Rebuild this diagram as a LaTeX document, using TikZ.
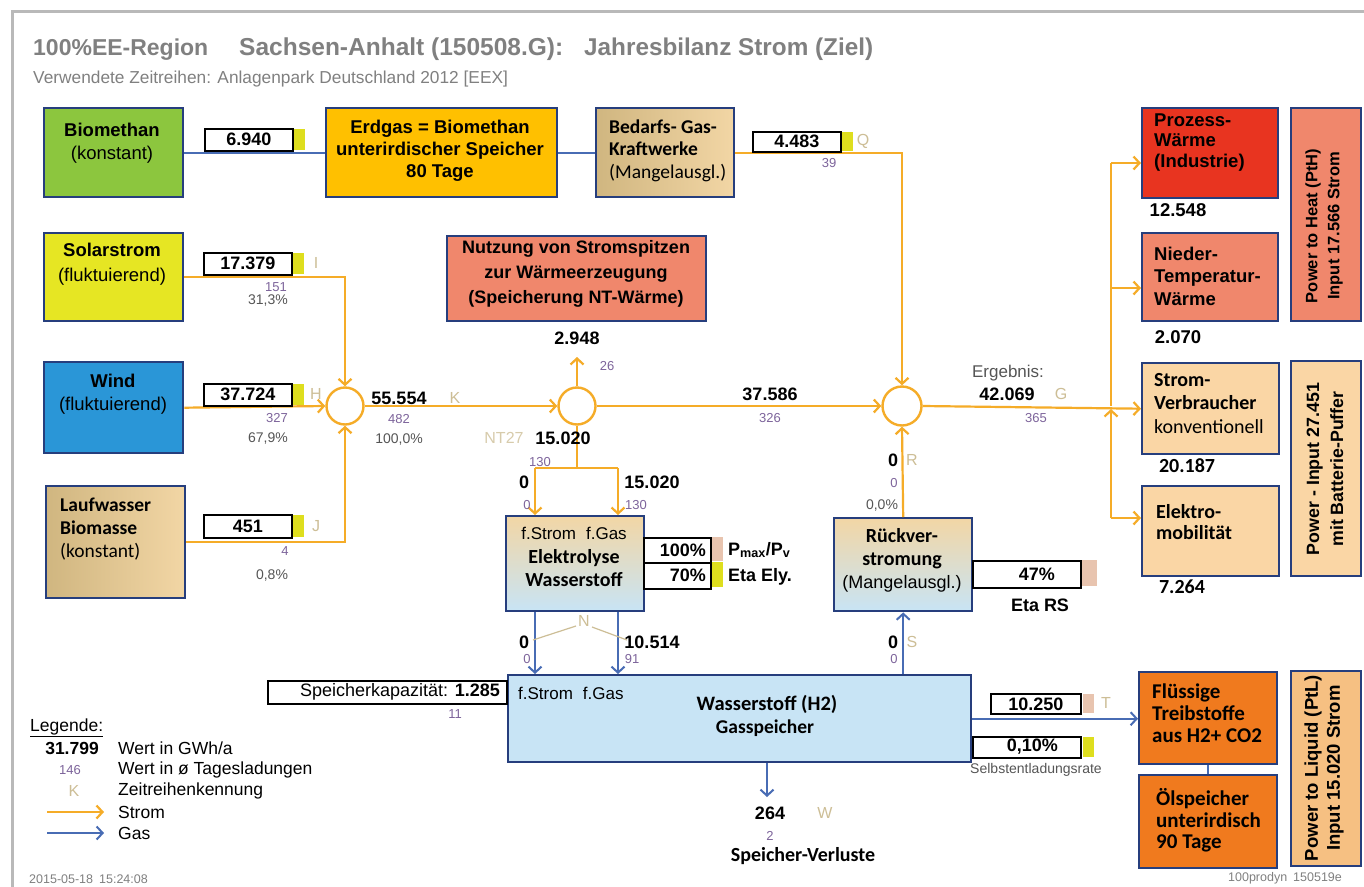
\documentclass[tikz,border=0pt]{standalone}
\usepackage{fontspec}
\setmainfont{Liberation Sans}
\newfontfamily\calf{Carlito}
\usetikzlibrary{arrows.meta}
\definecolor{boxblue}{RGB}{38,62,125}
\definecolor{stromc}{RGB}{245,172,40}
\definecolor{gasc}{RGB}{72,108,180}
\definecolor{purp}{RGB}{125,100,155}
\definecolor{tanl}{RGB}{205,190,150}
\definecolor{pgray}{RGB}{85,85,85}
\definecolor{tgray}{RGB}{128,128,128}
\definecolor{framec}{RGB}{185,185,185}
\definecolor{cgreen}{RGB}{140,198,62}
\definecolor{cyel}{RGB}{230,230,35}
\definecolor{cwind}{RGB}{42,150,215}
\definecolor{cerd}{RGB}{255,192,0}
\definecolor{ctan1}{RGB}{208,182,128}
\definecolor{ctan2}{RGB}{242,214,165}
\definecolor{csalm}{RGB}{240,135,108}
\definecolor{cred}{RGB}{232,52,32}
\definecolor{clight}{RGB}{250,214,165}
\definecolor{corange}{RGB}{240,122,30}
\definecolor{cptl}{RGB}{246,192,130}
\definecolor{cblue}{RGB}{200,228,245}
\definecolor{tabyel}{RGB}{222,222,30}
\definecolor{tabpink}{RGB}{232,196,175}
\begin{document}
\begin{tikzpicture}[x=1pt,y=-1pt,
  box/.style={draw=boxblue,line width=2.4pt,inner sep=0pt,anchor=north west},
  vbox/.style={draw=black,line width=1.6pt,fill=white,inner sep=0pt,anchor=north west,minimum width=88pt,minimum height=22pt,font=\fontsize{18}{22}\selectfont\bfseries},
  tabbox/.style={inner sep=0pt,anchor=north west,minimum width=11pt,minimum height=21pt},
  strom/.style={draw=stromc,line width=2.2pt},
  gas/.style={draw=gasc,line width=2pt},
  arr/.style={-{Straight Barb[length=6pt,width=13pt]}},
  val/.style={inner sep=0pt,font=\fontsize{18}{22}\selectfont\bfseries},
  pu/.style={inner sep=0pt,text=purp,font=\fontsize{13}{15}\selectfont},
  pc/.style={inner sep=0pt,text=pgray,font=\fontsize{14}{16}\selectfont},
  kz/.style={inner sep=0pt,text=tanl,font=\fontsize{16}{18}\selectfont},
  txt/.style={inner sep=0pt,align=center},
  ltxt/.style={inner sep=0pt,align=left,anchor=west},
  circ/.style={circle,draw=stromc,line width=2.4pt,minimum size=37pt,inner sep=0pt}
]
\useasboundingbox (0,0) rectangle (1364,886);
\fill[white] (0,0) rectangle (1364,886);
\draw[framec,line width=3pt] (12,890) -- (12,11) -- (1370,11);

% title
\node[anchor=base west,inner sep=0pt,text=tgray,font=\fontsize{23}{27}\selectfont\bfseries] (t1) at (33,55) {100\%EE-Region};
\node[anchor=base west,inner sep=0pt,text=tgray,font=\fontsize{24.5}{27}\selectfont\bfseries] (t2) at (239,55) {Sachsen-Anhalt (150508.G):};
\node[anchor=base west,inner sep=0pt,text=tgray,font=\fontsize{24.3}{27}\selectfont\bfseries] (t3) at (584,55) {Jahresbilanz Strom (Ziel)};
\node[anchor=base west,inner sep=0pt,text=tgray,font=\fontsize{17.3}{19}\selectfont] (st) at (33,83) {Verwendete Zeitreihen: Anlagenpark Deutschland 2012 [EEX]};

% boxes
\node[box,fill=cgreen,minimum width=139pt,minimum height=89pt] (bio) at (43,107) {};
\node[box,fill=cerd,minimum width=231pt,minimum height=89pt] (erd) at (325,107) {};
\node[box,left color=ctan1,right color=ctan2,minimum width=138pt,minimum height=89pt] (bed) at (595,107) {};
\node[box,fill=cred,minimum width=136pt,minimum height=90pt] (proz) at (1141,107) {};
\node[box,fill=csalm,minimum width=70pt,minimum height=213pt] (pth) at (1290,107) {};
\node[box,fill=cyel,minimum width=139pt,minimum height=88pt] (sol) at (43,232) {};
\node[box,fill=csalm,minimum width=259pt,minimum height=85pt] (nutz) at (446,235) {};
\node[box,fill=csalm,minimum width=136pt,minimum height=88pt] (nied) at (1141,232) {};
\node[box,fill=cwind,minimum width=139pt,minimum height=91pt] (wind) at (43,361) {};
\node[box,fill=clight,minimum width=137pt,minimum height=91pt] (sv) at (1141,362) {};
\node[box,fill=clight,minimum width=70pt,minimum height=215pt] (pow) at (1290,360) {};
\node[box,left color=ctan1,right color=ctan2,minimum width=139pt,minimum height=112pt] (lauf) at (45,485) {};
\node[box,fill=clight,minimum width=137pt,minimum height=90pt] (elek) at (1141,485) {};
\node[box,top color=ctan2,bottom color=cblue,minimum width=138pt,minimum height=95pt] (ely) at (505,515) {};
\node[box,top color=ctan2,bottom color=cblue,minimum width=138pt,minimum height=93pt] (rue) at (833,517) {};
\node[box,fill=cblue,minimum width=463pt,minimum height=87pt] (wst) at (507,674) {};
\node[box,fill=corange,minimum width=138pt,minimum height=92pt] (flu) at (1138,671) {};
\node[box,fill=corange,minimum width=138pt,minimum height=93pt] (oel) at (1138,774) {};
\node[box,fill=cptl,minimum width=70pt,minimum height=195pt] (ptl) at (1290,670) {};

% box texts
\node[txt,font=\fontsize{18.5}{23}\selectfont] (tbio) at (112,143.5) {\textbf{Biomethan}\\(konstant)};
\node[txt,font=\fontsize{18.5}{22}\selectfont\bfseries] (terd) at (440,151) {Erdgas = Biomethan\\unterirdischer Speicher\\80 Tage};
\node[ltxt,font=\calf\fontsize{19.5}{22.5}\selectfont] (tbed) at (609,150.5) {\textbf{Bedarfs- Gas-}\\\textbf{Kraftwerke}\\(Mangelausgl.)};
\node[ltxt,font=\fontsize{18.5}{20.5}\selectfont\bfseries] (tproz) at (1154,142.5) {Prozess-\\Wärme\\(Industrie)};
\node[txt,rotate=90,font=\fontsize{16.5}{22}\selectfont\bfseries] (tpth) at (1324,226) {Power to Heat (PtH)\\Input 17.566 Strom};
\node[txt,font=\fontsize{18.5}{25}\selectfont] (tsol) at (112,264.5) {\textbf{Solarstrom}\\(fluktuierend)};
\node[txt,font=\fontsize{18}{25}\selectfont\bfseries] (tnutz) at (576,274) {Nutzung von Stromspitzen\\zur Wärmeerzeugung\\(Speicherung NT-Wärme)};
\node[ltxt,font=\fontsize{18.5}{22.5}\selectfont\bfseries] (tnied) at (1154,276) {Nieder-\\Temperatur-\\Wärme};
\node[txt,font=\fontsize{18.5}{23}\selectfont] (twind) at (113,394.5) {\textbf{Wind}\\(fluktuierend)};
\node[ltxt,font=\calf\fontsize{20}{23.5}\selectfont] (tsv) at (1154,403.5) {\textbf{Strom-}\\\textbf{Verbraucher}\\konventionell};
\node[txt,rotate=90,font=\fontsize{17.8}{24}\selectfont\bfseries] (tpow) at (1325,469) {Power - Input 27.451\\mit Batterie-Puffer};
\node[ltxt,font=\calf\fontsize{19.5}{23}\selectfont] (tlauf) at (60,529) {\textbf{Laufwasser}\\\textbf{Biomasse}\\(konstant)};
\node[ltxt,font=\calf\fontsize{20}{21}\selectfont\bfseries] (telek) at (1156,522.5) {Elektro-\\mobilität};
\node[txt,font=\calf\fontsize{20}{23.5}\selectfont\bfseries] (tely) at (574,557) {{\rmfamily\mdseries\fontsize{17}{23.5}\selectfont f.Strom\hspace{10pt}f.Gas}\\Elektrolyse\\Wasserstoff};
\node[txt,font=\calf\fontsize{20}{23}\selectfont\bfseries] (true) at (902,560) {Rückver-\\stromung\\{\rmfamily\mdseries\fontsize{18}{23}\selectfont(Mangelausgl.)}};
\node[anchor=west,inner sep=0pt,font=\fontsize{17}{20}\selectfont] (twst0) at (518,693) {f.Strom\hspace{10pt}f.Gas};
\node[txt,font=\calf\fontsize{20.5}{24}\selectfont\bfseries] (twst1) at (767,704) {Wasserstoff (H2)};
\node[txt,font=\calf\fontsize{19.5}{24}\selectfont\bfseries] (twst2) at (765,728) {Gasspeicher};
\node[ltxt,font=\calf\fontsize{21}{22}\selectfont\bfseries] (tflu) at (1152,713) {Flüssige\\Treibstoffe\\aus H2+ CO2};
\node[ltxt,font=\calf\fontsize{21}{21.5}\selectfont\bfseries] (toel) at (1156,820.5) {Ölspeicher\\unterirdisch\\90 Tage};
\node[txt,rotate=90,font=\fontsize{18.5}{22}\selectfont\bfseries] (tptl) at (1324,768) {Power to Liquid (PtL)\\Input 15.020 Strom};

% circles
\node[circ] (c1) at (345,406) {};
\node[circ] (c2) at (577,406) {};
\node[circ,minimum size=39pt] (c3) at (902,406) {};

% connectors
\draw[gas] (bio.east) -- (erd.west);
\draw[gas] (erd.east) -- (bed.west);
\draw[strom,arr] (bed.east) -| (c3.north);
\draw[strom,arr] (sol.east) -| (c1.north);
\draw[strom,arr] (wind.east) -- (c1.west);
\draw[strom,arr] (lauf.east) -| (c1.south);
\draw[strom,arr] (c1.east) -- (c2.west);
\coordinate (p2948) at (577,357);
\draw[strom,arr] (c2.north) -- (p2948);
\coordinate (spl) at (577,468);
\coordinate (splL) at (535,468);
\coordinate (splR) at (618,468);
\draw[strom] (c2.south) -- (spl);
\draw[strom] (splL) -- (splR);
\draw[strom,arr] (splL) -- (splL |- ely.north);
\draw[strom,arr] (splR) -- (splR |- ely.north);
\draw[strom,arr] (c2.east) -- (c3.west);
\draw[strom,arr] (c3.east) -- (sv.west);
\coordinate (b1) at (1111,163);
\coordinate (b2) at (1111,288);
\coordinate (bm) at (1111,406);
\coordinate (bm2) at (1111,409);
\coordinate (b4) at (1111,518);
\draw[strom] (b1) -- (bm);
\draw[strom,arr] (b4) -- (bm2);
\draw[strom,arr] (b1) -- (b1 -| proz.west);
\draw[strom,arr] (b2) -- (b2 -| nied.west);
\draw[strom,arr] (b4) -- (b4 -| elek.west);
\draw[strom,arr] (rue.north) -- (c3.south);
\draw[gas,arr] (splL |- ely.south) -- (splL |- wst.north);
\draw[gas,arr] (splR |- ely.south) -- (splR |- wst.north);
\draw[gas,arr] (rue.south |- wst.north) -- (rue.south);
\coordinate (vl) at (767,797);
\draw[gas,arr] (vl |- wst.south) -- (vl);
\draw[gas,arr] (wst.east) -- (wst.east -| flu.west);
\draw[gas] (flu.south) -- (oel.north);

% value boxes
\node[vbox] (v1) at (204,128) {6.940};
\node[tabbox,fill=tabyel] (v1t) at (294,129) {};
\node[vbox,minimum height=20pt] (v2) at (752,131) {4.483};
\node[tabbox,fill=tabyel,minimum height=19pt] (v2t) at (842,132) {};
\node[kz] (kq) at (863,141) {Q};
\node[pu] (n39) at (829,163) {39};
\node[vbox] (v3) at (203,252) {17.379};
\node[tabbox,fill=tabyel] (v3t) at (293,253) {};
\node[kz] (ki) at (316,263) {I};
\node[pu] (n151) at (276,287) {151};
\node[pc] (p313) at (268,301) {31,3\%};
\node[vbox] (v4) at (203,383) {37.724};
\node[tabbox,fill=tabyel] (v4t) at (293,384) {};
\node[kz] (kh) at (316,394) {H};
\node[pu] (n327) at (277,418) {327};
\node[pc] (p679) at (268,439) {67,9\%};
\node[vbox,minimum height=23pt] (v5) at (203,514) {451};
\node[tabbox,fill=tabyel,minimum height=22pt] (v5t) at (293,515) {};
\node[kz] (kj) at (316,526) {J};
\node[pu] (n4) at (285,551) {4};
\node[pc] (p08) at (272,575) {0,8\%};

\node[val] (s55) at (399,398) {55.554};
\node[kz] (kk) at (455,398) {K};
\node[pu] (n482) at (399,419) {482};
\node[pc] (p100) at (399,440) {100,0\%};
\node[val] (s2948) at (577,338) {2.948};
\node[pu] (n26) at (607,366) {26};
\node[kz,text=tanl!80] (knt) at (504,438) {NT27};
\node[val] (s15a) at (563,438) {15.020};
\node[pu] (n130a) at (540,462) {130};
\node[val] (s0a) at (524,482) {0};
\node[val] (s15b) at (652,482) {15.020};
\node[pu] (n0a) at (527,505) {0};
\node[pu] (n130b) at (636,505) {130};
\node[val] (s37586) at (770,394) {37.586};
\node[pu] (n326) at (770,418) {326};
\node[inner sep=0pt,text=pgray,font=\fontsize{17}{20}\selectfont] (erg) at (1008,373) {Ergebnis:};
\node[val] (s42) at (1007,394) {42.069};
\node[kz] (kg) at (1061,394) {G};
\node[pu] (n365) at (1036,418) {365};
\node[inner sep=0pt,font=\fontsize{18.5}{22}\selectfont\bfseries] (s12548) at (1178,210) {12.548};
\node[inner sep=0pt,font=\fontsize{18.5}{22}\selectfont\bfseries] (s2070) at (1178,337) {2.070};
\node[inner sep=0pt,font=\calf\fontsize{20}{22}\selectfont\bfseries] (s20187) at (1187,466) {20.187};
\node[inner sep=0pt,font=\calf\fontsize{20}{22}\selectfont\bfseries] (s7264) at (1182,587) {7.264};

% Rueckverstromung labels
\node[val] (s0r) at (893,460) {0};
\node[kz] (kr) at (912,460) {R};
\node[pu] (n0r) at (894,483) {0};
\node[pc] (p00) at (882,505) {0,0\%};
\node[val] (s0s) at (893,642) {0};
\node[kz] (ks) at (912,642) {S};
\node[pu] (n0s) at (894,659) {0};

% Elektrolyse table
\node[box,draw=black,line width=1.6pt,fill=white,minimum width=67pt,minimum height=25pt] (t100) at (643,537) {};
\node[box,draw=black,line width=1.6pt,fill=white,minimum width=67pt,minimum height=26pt] (t70) at (643,562) {};
\node[tabbox,fill=tabpink,minimum height=24pt] (t100t) at (712,537) {};
\node[tabbox,fill=tabyel,minimum height=25pt] (t70t) at (712,562) {};
\node[anchor=east,inner sep=0pt,font=\fontsize{18}{22}\selectfont\bfseries] (x100) at (706,550) {100\%};
\node[anchor=east,inner sep=0pt,font=\fontsize{18}{22}\selectfont\bfseries] (x70) at (706,575) {70\%};
\node[anchor=west,inner sep=0pt,font=\fontsize{18}{22}\selectfont\bfseries] (xpm) at (728,550) {P\textsubscript{max}/P\textsubscript{v}};
\node[anchor=west,inner sep=0pt,font=\fontsize{18}{22}\selectfont\bfseries] (xeta) at (728,577) {Eta Ely.};

% Elektrolyse -> Wasserstoff labels
\node[val] (s0n) at (524,642) {0};
\node[val] (s10514) at (652,642) {10.514};
\node[pu] (n0n) at (527,659) {0};
\node[pu] (n91) at (632,659) {91};
\node[kz] (kn) at (584,621) {N};
\coordinate (nl1) at (576,626);
\coordinate (nl2) at (533,640);
\coordinate (nr1) at (592,627);
\coordinate (nr2) at (627,640);
\draw[tanl,line width=1.2pt] (nl1) -- (nl2);
\draw[tanl,line width=1.2pt] (nr1) -- (nr2);

% Rueckverstromung eta
\node[box,draw=black,line width=1.6pt,fill=white,minimum width=108pt,minimum height=27pt] (t47) at (972,560) {};
\node[tabbox,fill=tabpink,minimum width=15pt,minimum height=26pt] (t47t) at (1082,560) {};
\node[anchor=east,inner sep=0pt,font=\fontsize{18}{22}\selectfont\bfseries] (x47) at (1055,574) {47\%};
\node[inner sep=0pt,font=\fontsize{18}{22}\selectfont\bfseries] (xetars) at (1040,605) {Eta RS};

% Speicher
\node[box,draw=black,line width=1.6pt,fill=white,minimum width=239pt,minimum height=23pt] (skap) at (267,680) {};
\node[anchor=east,inner sep=0pt,font=\fontsize{18}{22}\selectfont] (xskap) at (500,691.5) {Speicherkapazität: \textbf{1.285}};
\node[pu] (n11) at (455,714) {11};
\node[val] (s264) at (770,813) {264};
\node[kz] (kw) at (825,813) {W};
\node[pu] (n2) at (770,836) {2};
\node[inner sep=0pt,font=\calf\fontsize{20}{22}\selectfont\bfseries] (sverl) at (803,856) {Speicher-Verluste};
\node[vbox,minimum width=90pt,minimum height=20pt] (v10250) at (990,693) {10.250};
\node[tabbox,fill=tabpink,minimum height=19pt] (v10250t) at (1083,694) {};
\node[kz] (kt) at (1106,703) {T};
\node[box,draw=black,line width=1.6pt,fill=white,minimum width=108pt,minimum height=21pt] (t010) at (972,736) {};
\node[tabbox,fill=tabyel,minimum height=20pt] (t010t) at (1083,737) {};
\node[anchor=east,inner sep=0pt,font=\fontsize{18}{22}\selectfont\bfseries] (x010) at (1058,746.5) {0,10\%};
\node[inner sep=0pt,text=pgray,font=\fontsize{14}{16}\selectfont] (xsel) at (1036,770) {Selbstentladungsrate};

% legend
\node[anchor=west,inner sep=0pt,font=\fontsize{17.5}{20}\selectfont] (leg) at (30,728) {\underline{Legende:}};
\node[anchor=east,inner sep=0pt,font=\fontsize{17.5}{20}\selectfont\bfseries] (l1a) at (99,748) {31.799};
\node[anchor=west,inner sep=0pt,font=\fontsize{17.5}{20}\selectfont] (l1b) at (118,748) {Wert in GWh/a};
\node[pu] (l2a) at (70,770) {146};
\node[anchor=west,inner sep=0pt,font=\fontsize{17.5}{20}\selectfont] (l2b) at (118,770) {Wert in ø Tagesladungen};
\node[kz] (l3a) at (74,791) {K};
\node[anchor=west,inner sep=0pt,font=\fontsize{17.5}{20}\selectfont] (l3b) at (118,791) {Zeitreihenkennung};
\coordinate (la1) at (47,812);
\coordinate (la2) at (104,812);
\draw[strom,arr] (la1) -- (la2);
\node[anchor=west,inner sep=0pt,font=\fontsize{17.5}{20}\selectfont] (l4b) at (118,812) {Strom};
\coordinate (lg1) at (47,833);
\coordinate (lg2) at (104,833);
\draw[gas,arr] (lg1) -- (lg2);
\node[anchor=west,inner sep=0pt,font=\fontsize{17.5}{20}\selectfont] (l5b) at (118,833) {Gas};

\node[anchor=west,inner sep=0pt,text=tgray,font=\fontsize{12.5}{14}\selectfont] (date) at (29,879) {2015-05-18\hspace{6pt}15:24:08};
\node[inner sep=0pt,text=tgray,font=\fontsize{12.5}{14}\selectfont] (prod) at (1285,878) {100prodyn\hspace{6pt}150519e};
\end{tikzpicture}
\end{document}
